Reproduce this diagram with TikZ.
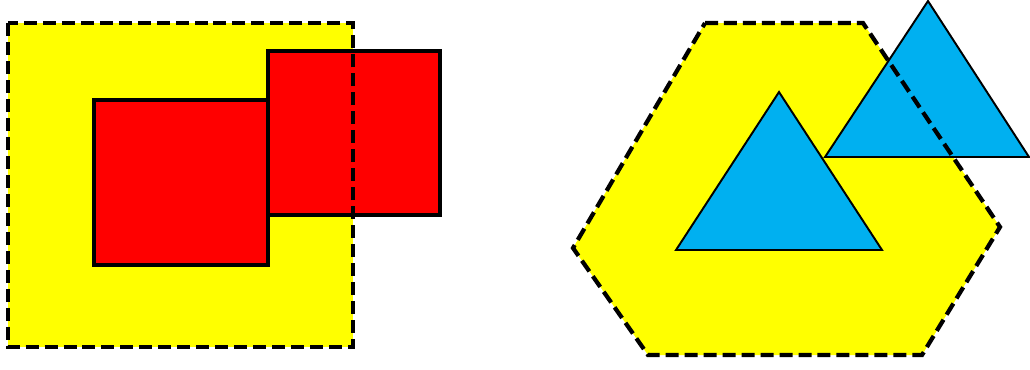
\documentclass[tikz,border=0pt]{standalone}
\usepackage{tikz}
\definecolor{sunyellow}{HTML}{FFFF00}
\definecolor{boxred}{HTML}{FF0000}
\definecolor{skyblue}{HTML}{00B0F0}
\tikzset{
	area/.style={fill=sunyellow},
	areaedge/.style={draw=black, line width=2.4pt, dash pattern=on 7.4pt off 3.4pt, line join=miter},
	block/.style={draw=black, fill=boxred, line width=2.3pt},
	wedge/.style={draw=black, fill=skyblue, line width=1.1pt, line join=miter}
}
\begin{document}
\begin{tikzpicture}[x=0.02cm, y=-0.02cm]
	\useasboundingbox (0,0) rectangle (1030,369);
	% left: square region with two blocks
	\fill[area] (8,23) rectangle (353,347);
	\draw[block] (94,100) rectangle (268,265);
	\draw[block] (268,51) rectangle (440,215);
	\draw[areaedge] (8,23) rectangle (353,347);
	% right: hexagon region with two triangles
	\fill[area] (705,23) -- (863,23) -- (1000,227) -- (922,355) -- (648,355) -- (573,248) -- cycle;
	\draw[wedge] (779,92) -- (882,250) -- (676,250) -- cycle;
	\draw[wedge] (928,1) -- (1029,157) -- (825,157) -- cycle;
	\draw[areaedge] (705,23) -- (863,23) -- (1000,227) -- (922,355) -- (648,355) -- (573,248) -- cycle;
\end{tikzpicture}
\end{document}
